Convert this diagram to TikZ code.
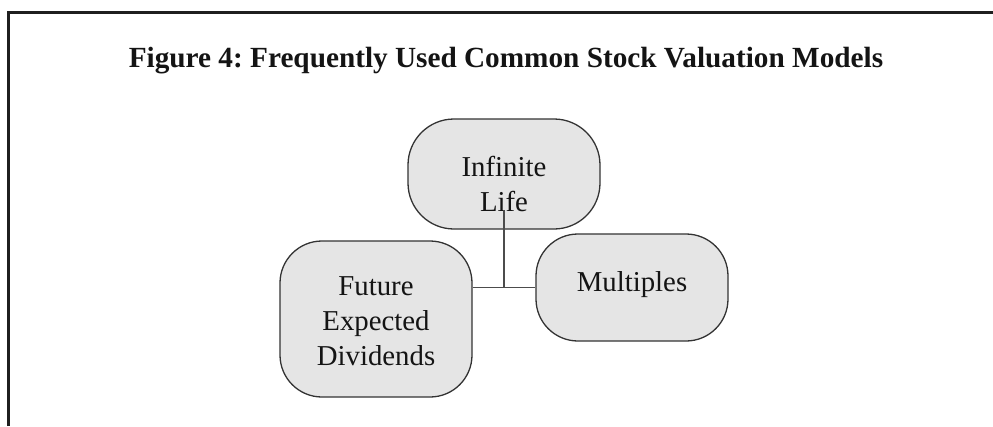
\documentclass[tikz,border=0pt]{standalone}
\usepackage{fontspec}
\setmainfont{Liberation Serif}
\frenchspacing
\begin{document}
\begin{tikzpicture}[x=1pt,y=-1pt,
  framecol/.style={draw=black!88, line width=2.6pt, line join=miter},
  pill/.style={draw=black!80, fill=black!10, line width=1.3pt, rectangle, minimum width=192pt, inner sep=0pt},
  lbl/.style={align=center, inner sep=0pt, text=black!92, font=\fontsize{28.8}{35}\selectfont},
  conn/.style={draw=black!70, line width=1.4pt}]
\useasboundingbox (0,0) rectangle (993,426);
\draw[framecol] (8.2,426) -- (8.2,12.6) -- (993,12.6);
\node[anchor=base, inner sep=0pt, text=black!92, font=\fontsize{29.25}{35}\selectfont\bfseries] (title) at (506,67) {Figure 4: Frequently Used Common Stock Valuation Models};
% boxes
\node[pill, minimum height=110pt, rounded corners=46pt] (il) at (504,174) {};
\node[pill, minimum height=156pt, rounded corners=42pt] (fed) at (376,319) {};
\node[pill, minimum height=107pt, rounded corners=42pt] (mult) at (632,287.5) {};
% labels
\node[lbl] (ilt) at (504,183.5) {Infinite\\Life};
\node[lbl] (fedt) at (376,321) {Future\\Expected\\Dividends};
\node[lbl] (multt) at (632,284.3) {Multiples};
% connectors
\coordinate (ilstart) at (504,210);
\coordinate (j) at (ilstart |- mult.west);
\draw[conn] (ilstart) -- (j);
\draw[conn] (fed.east |- mult.west) -- (mult.west);
\end{tikzpicture}
\end{document}
